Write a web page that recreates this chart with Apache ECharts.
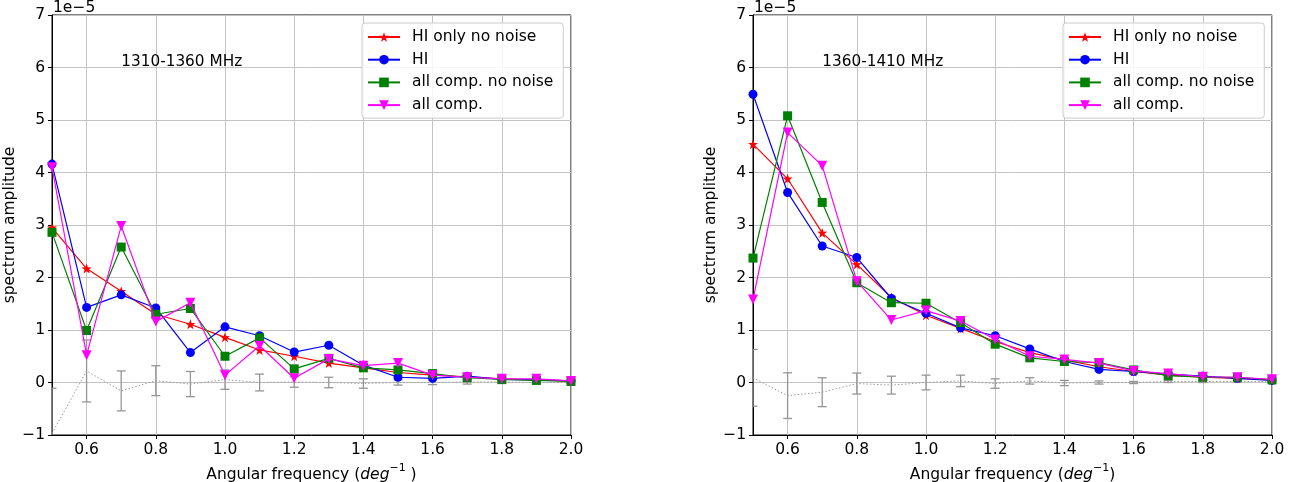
<!DOCTYPE html>
<html>
<head>
<meta charset="utf-8">
<script src="https://cdn.jsdelivr.net/npm/echarts@6/dist/echarts.min.js"></script>
<style>
html,body{margin:0;padding:0;background:#fff;}
#chart{width:1309px;height:482px;}
</style>
</head>
<body>
<div id="chart"></div>
<script>
// ---------- DATA (amplitudes in units of 1e-5) ----------
const freq = [0.5,0.6,0.7,0.8,0.9,1.0,1.1,1.2,1.3,1.4,1.5,1.6,1.7,1.8,1.9,2.0];
const xTickValues = [0.6,0.8,1.0,1.2,1.4,1.6,1.8,2.0];
const yMin = -1, yMax = 7;
const seriesNames = ['HI only no noise','HI','all comp. no noise','all comp.'];

// Left panel: 1310-1360 MHz
const leftLabel = '1310-1360 MHz';
const leftHIonlyNoNoise = [2.95,2.17,1.74,1.30,1.11,0.86,0.62,0.50,0.37,0.28,0.19,0.14,0.11,0.07,0.05,0.03];
const leftHI            = [4.16,1.43,1.67,1.42,0.57,1.06,0.89,0.58,0.71,0.33,0.10,0.08,0.12,0.06,0.05,0.03];
const leftAllNoNoise    = [2.86,0.99,2.58,1.30,1.41,0.50,0.85,0.26,0.46,0.28,0.24,0.17,0.09,0.06,0.04,0.02];
const leftAll           = [4.10,0.52,2.98,1.16,1.52,0.14,0.70,0.08,0.45,0.32,0.37,0.14,0.10,0.07,0.07,0.03];
const leftResid         = [-0.97,0.22,-0.16,0.035,-0.03,0.055,0.00,0.01,0.00,-0.02,0.00,0.00,0.01,0.01,0.00,0.00];
const leftResidErr      = [0.86,0.59,0.38,0.285,0.24,0.185,0.16,0.10,0.10,0.09,0.05,0.04,0.04,0.03,0.02,0.02];

// Right panel: 1360-1410 MHz
const rightLabel = '1360-1410 MHz';
const rightHIonlyNoNoise = [4.54,3.88,2.85,2.25,1.62,1.28,1.03,0.78,0.57,0.43,0.30,0.21,0.14,0.10,0.08,0.05];
const rightHI            = [5.49,3.62,2.60,2.38,1.60,1.32,1.04,0.89,0.64,0.40,0.25,0.21,0.16,0.12,0.08,0.04];
const rightAllNoNoise    = [2.37,5.08,3.43,1.90,1.52,1.51,1.14,0.73,0.47,0.40,0.38,0.24,0.13,0.10,0.10,0.05];
const rightAll           = [1.58,4.76,4.13,1.93,1.19,1.37,1.17,0.82,0.50,0.44,0.37,0.22,0.17,0.11,0.10,0.06];
const rightResid         = [0.09,-0.25,-0.185,-0.02,-0.05,0.00,0.03,-0.02,0.03,-0.01,0.00,0.00,0.02,0.02,0.02,0.02];
const rightResidErr      = [0.54,0.435,0.275,0.20,0.17,0.14,0.11,0.09,0.06,0.05,0.03,0.02,0.02,0.02,0.01,0.01];

const annotX = 0.7, annotY = 6.0;

// ---------- STYLE ----------
const FONT = 'DejaVu Sans';
const FS = 15.5;
const starPath = 'path://M0,-10 L2.35,-3.24 9.51,-3.09 3.8,1.24 5.88,8.09 0,4 -5.88,8.09 -3.8,1.24 -9.51,-3.09 -2.35,-3.24 Z';
const styles = [
  {color:'#ff0000', symbol: starPath, size: 10, rotate: 0},
  {color:'#0000ff', symbol: 'circle', size: 9, rotate: 0},
  {color:'#008000', symbol: 'rect', size: 9, rotate: 0},
  {color:'#ff00ff', symbol: 'triangle', size: 10, rotate: 180}
];

function pairs(ys){ return freq.map((x,i)=>[x, ys[i]]); }
function errTriples(ys, es){ return freq.map((x,i)=>[x, ys[i], es[i]]); }

function renderErr(params, api){
  const x = api.value(0), y = api.value(1), e = api.value(2);
  const top = api.coord([x, y + e]);
  const bot = api.coord([x, y - e]);
  const cap = 4.5;
  const st = {stroke:'#959595', lineWidth:1.3, fill:null};
  return {type:'group', children:[
    {type:'line', shape:{x1:top[0], y1:top[1], x2:bot[0], y2:bot[1]}, style:st},
    {type:'line', shape:{x1:top[0]-cap, y1:top[1], x2:top[0]+cap, y2:top[1]}, style:st},
    {type:'line', shape:{x1:bot[0]-cap, y1:bot[1], x2:bot[0]+cap, y2:bot[1]}, style:st}
  ]};
}

function panelSeries(idx, sets, resid, residErr){
  const out = [];
  out.push({type:'custom', xAxisIndex:idx, yAxisIndex:idx, renderItem: renderErr, clip:true,
            data: errTriples(resid, residErr), z:1, silent:true});
  out.push({type:'line', xAxisIndex:idx, yAxisIndex:idx, data: pairs(resid), symbol:'none',
            lineStyle:{color:'#9c9c9c', width:1, type:[1.5, 2]}, z:1, silent:true, animation:false});
  sets.forEach((ys, k)=>{
    const s = styles[k];
    out.push({type:'line', name: seriesNames[k], xAxisIndex:idx, yAxisIndex:idx, data: pairs(ys),
      symbol: s.symbol, symbolSize: s.size, symbolRotate: s.rotate, showAllSymbol:true,
      itemStyle:{color:s.color, borderWidth:0}, lineStyle:{color:s.color, width:1.2},
      z: 2 + k, animation:false});
  });
  return out;
}

function xAxisCfg(idx, nameRich){
  return {
    type:'value', gridIndex:idx, min:0.5, max:2.0,
    name: nameRich, nameLocation:'middle', nameGap:24,
    nameTextStyle:{
      color:'#000', fontFamily:FONT, fontSize:FS,
      rich:{
        a:{fontFamily:FONT, fontSize:FS, color:'#000', lineHeight:20, verticalAlign:'bottom'},
        i:{fontFamily:FONT, fontSize:FS, color:'#000', fontStyle:'italic', lineHeight:20, verticalAlign:'bottom'},
        s:{fontFamily:FONT, fontSize:11, color:'#000', lineHeight:20, verticalAlign:'top'}
      }
    },
    axisLine:{show:true, onZero:false, lineStyle:{color:'#000', width:1}},
    axisTick:{show:true, length:4, inside:false, lineStyle:{color:'#000', width:1}, customValues: xTickValues},
    axisLabel:{show:true, color:'#000', fontFamily:FONT, fontSize:FS, margin:7,
      customValues: xTickValues, formatter: v => Number(v).toFixed(1)},
    splitLine:{show:true, lineStyle:{color:'#c4c4c4', width:1}}
  };
}
function yAxisCfg(idx){
  return {
    type:'value', gridIndex:idx, min:yMin, max:yMax, interval:1,
    name:'spectrum amplitude', nameLocation:'middle', nameGap:29,
    nameTextStyle:{color:'#000', fontFamily:FONT, fontSize:FS},
    axisLine:{show:true, onZero:false, lineStyle:{color:'#000', width:1}},
    axisTick:{show:true, length:4, inside:false, lineStyle:{color:'#000', width:1}},
    axisLabel:{color:'#000', fontFamily:FONT, fontSize:FS, margin:7,
      formatter: v => v < 0 ? '\u2212' + (-v) : String(v)},
    splitLine:{show:true, lineStyle:{color:'#c4c4c4', width:1}}
  };
}
function legendCfg(left){
  return {
    data: seriesNames, orient:'vertical', left: left, top: 23,
    itemWidth:32, itemHeight:12, itemGap:6.7,
    padding:[6, 10, 5, 5],
    backgroundColor:'rgba(255,255,255,0.85)', borderColor:'#cccccc', borderWidth:1, borderRadius:3,
    textStyle:{color:'#000', fontFamily:FONT, fontSize:FS, padding:[0,0,0,7]},
    selectedMode:false
  };
}

const chart = echarts.init(document.getElementById('chart'), null, {renderer:'canvas'});
const grids = [
  {left:52, top:15, width:519, height:420, show:true, borderColor:'#000', borderWidth:1,
   backgroundColor:'transparent', containLabel:false, outerBoundsMode:'none'},
  {left:753, top:15, width:519, height:420, show:true, borderColor:'#000', borderWidth:1,
   backgroundColor:'transparent', containLabel:false, outerBoundsMode:'none'}
];
const option = {
  animation:false,
  backgroundColor:'#fff',
  textStyle:{fontFamily:FONT},
  grid: grids,
  xAxis:[
    xAxisCfg(0, '{a|Angular frequency (}{i|deg}{s|\u22121}{a| )}'),
    xAxisCfg(1, '{a|Angular frequency (}{i|deg}{s|\u22121}{a|)}')
  ],
  yAxis:[yAxisCfg(0), yAxisCfg(1)],
  legend:[legendCfg(362), legendCfg(1063)],
  series: [].concat(
    panelSeries(0, [leftHIonlyNoNoise, leftHI, leftAllNoNoise, leftAll], leftResid, leftResidErr),
    panelSeries(1, [rightHIonlyNoNoise, rightHI, rightAllNoNoise, rightAll], rightResid, rightResidErr)
  )
};
chart.setOption(option);

// annotations and offset text, positioned through the axes
const p0 = chart.convertToPixel({gridIndex:0}, [annotX, annotY]);
const p1 = chart.convertToPixel({gridIndex:1}, [annotX, annotY]);
const t0 = chart.convertToPixel({gridIndex:0}, [0.5, yMax]);
const t1 = chart.convertToPixel({gridIndex:1}, [0.5, yMax]);
const annFont = '15.3px "DejaVu Sans"';
const offFont = FS + 'px "DejaVu Sans"';
chart.setOption({
  graphic:[
    {type:'text', x:p0[0], y:p0[1]-5, style:{text:leftLabel, fill:'#000', font:annFont, textAlign:'left', textVerticalAlign:'middle'}},
    {type:'text', x:p1[0], y:p1[1]-5, style:{text:rightLabel, fill:'#000', font:annFont, textAlign:'left', textVerticalAlign:'middle'}},
    {type:'text', x:t0[0]+1, y:t0[1]+1, style:{text:'1e\u22125', fill:'#000', font:offFont, textAlign:'left', textVerticalAlign:'bottom'}},
    {type:'text', x:t1[0]+1, y:t1[1]+1, style:{text:'1e\u22125', fill:'#000', font:offFont, textAlign:'left', textVerticalAlign:'bottom'}}
  ]
});
</script>
</body>
</html>
